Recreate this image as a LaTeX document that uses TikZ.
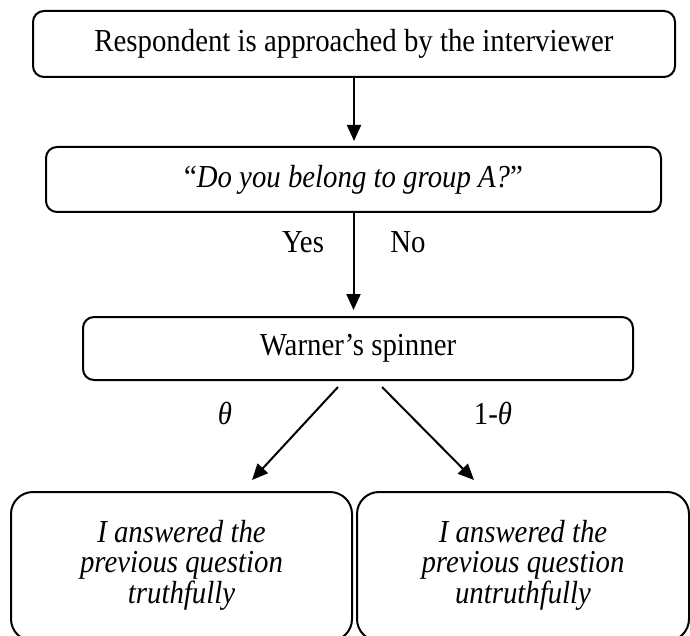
\documentclass[tikz,border=0pt]{standalone}
\usepackage{fontspec}
\usepackage{graphicx}
\setmainfont{Liberation Serif}
\usetikzlibrary{arrows.meta}
\newcommand{\sqz}[1]{\scalebox{0.9}[1]{#1}}
\begin{document}
\begin{tikzpicture}[x=1pt,y=-1pt,
  box/.style={draw, line width=2pt, rounded corners=11pt, inner sep=0pt, align=center,
    font=\fontsize{32}{30}\selectfont},
  bigbox/.style={box, rounded corners=22pt},
  arr/.style={line width=2pt, -{Triangle[length=16pt,width=14pt]}},
  lbl/.style={font=\fontsize{32}{30}\selectfont, inner sep=0pt}]
\useasboundingbox (0,0) rectangle (690,636);
\node[box, minimum width=642pt, minimum height=66pt] (b1) at (354,44)
  {\sqz{Respondent is approached by the interviewer}};
\node[box, minimum width=615pt, minimum height=65pt] (b2) at (353.5,179.5)
  {\sqz{“\textit{Do you belong to group A?}”}};
\node[box, minimum width=550pt, minimum height=63pt] (b3) at (358,348.5)
  {\sqz{Warner’s spinner}};
\node[bigbox, minimum width=341pt, minimum height=149pt] (b4) at (181.5,566.5)
  {\sqz{\itshape\begin{tabular}{@{}c@{}}I answered the\\previous question\\truthfully\end{tabular}}};
\node[bigbox, minimum width=332pt, minimum height=149pt] (b5) at (523,566.5)
  {\sqz{\itshape\begin{tabular}{@{}c@{}}I answered the\\previous question\\untruthfully\end{tabular}}};
\draw[arr, shorten >=5pt] (b1.south) -- (b1.south |- b2.north);
\draw[arr, shorten >=6pt] (b2.south) -- (b2.south |- b3.north);
\node[lbl] (yes) at (303,242) {\sqz{Yes}};
\node[lbl] (no) at (408,242) {\sqz{No}};
\coordinate (s1) at (338,387);
\coordinate (e1) at (252,480);
\coordinate (s2) at (382,387);
\coordinate (e2) at (474,480);
\draw[arr] (s1) -- (e1);
\draw[arr] (s2) -- (e2);
\node[lbl] (th) at (225,413) {\sqz{\textit{θ}}};
\node[lbl] (th2) at (493,413) {\sqz{1-\textit{θ}}};
\end{tikzpicture}
\end{document}
